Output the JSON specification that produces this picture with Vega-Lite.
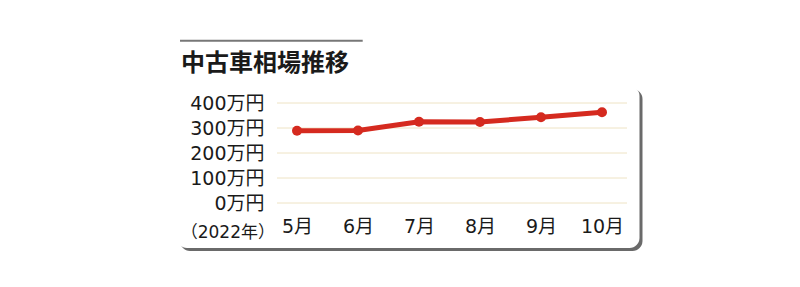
{
  "$schema": "https://vega.github.io/schema/vega-lite/v6.json",
  "autosize": "none",
  "width": 350,
  "height": 100,
  "padding": {"left": 277, "top": 103, "right": 173, "bottom": 84},
  "background": "#ffffff",
  "config": {
    "view": {"stroke": null},
    "font": "Noto Sans CJK JP"
  },
  "datasets": {
    "prices": [
      {"month": 5, "price": 289},
      {"month": 6, "price": 290},
      {"month": 7, "price": 325},
      {"month": 8, "price": 324},
      {"month": 9, "price": 343},
      {"month": 10, "price": 363}
    ],
    "grid": [
      {"level": 0}, {"level": 100}, {"level": 200}, {"level": 300}, {"level": 400}
    ]
  },
  "encoding": {
    "x": {
      "type": "quantitative",
      "scale": {"domain": [4.672, 10.41], "nice": false, "zero": false},
      "axis": {
        "title": null, "grid": false, "domain": false, "ticks": false,
        "values": [5, 6, 7, 8, 9, 10],
        "labelExpr": "datum.value + '月'",
        "labelFont": "DejaVu Sans, Noto Sans CJK JP",
        "labelFontSize": 19, "labelColor": "#1a1a1a",
        "labelPadding": 14, "labelFlush": false, "labelOverlap": false,
        "zindex": 1
      }
    },
    "y": {
      "type": "quantitative",
      "scale": {"domain": [0, 400], "nice": false},
      "axis": {
        "title": null, "grid": false, "domain": false, "ticks": false,
        "values": [0, 100, 200, 300, 400],
        "labelExpr": "datum.value + '万円'",
        "labelFont": "DejaVu Sans, Noto Sans CJK JP",
        "labelFontSize": 19, "labelColor": "#1a1a1a",
        "labelPadding": 13, "labelFlush": false, "labelOverlap": false,
        "zindex": 1
      }
    }
  },
  "layer": [
    {
      "description": "panel shadow",
      "data": {"values": [{}]},
      "mark": {"type": "rect", "fill": "#6a6a6a", "cornerRadius": 10},
      "encoding": {
        "x": {"datum": 3.082, "type": "quantitative"},
        "x2": {"datum": 10.664},
        "y": {"datum": 456, "type": "quantitative"},
        "y2": {"datum": -192}
      }
    },
    {
      "description": "panel face",
      "data": {"values": [{}]},
      "mark": {"type": "rect", "fill": "#ffffff", "cornerRadius": 10, "xOffset": -3, "x2Offset": -3, "yOffset": -3, "y2Offset": -3},
      "encoding": {
        "x": {"datum": 3.082, "type": "quantitative"},
        "x2": {"datum": 10.664},
        "y": {"datum": 456, "type": "quantitative"},
        "y2": {"datum": -192}
      }
    },
    {
      "description": "rule above the heading",
      "data": {"values": [{}]},
      "mark": {"type": "rule", "stroke": "#777777", "strokeWidth": 2},
      "encoding": {
        "x": {"datum": 3.082, "type": "quantitative"},
        "x2": {"datum": 6.077},
        "y": {"datum": 649, "type": "quantitative"}
      }
    },
    {
      "description": "heading",
      "data": {"values": [{"label": "中古車相場推移"}]},
      "mark": {"type": "text", "align": "left", "baseline": "middle", "fontSize": 24, "fontWeight": "bold", "color": "#1a1a1a", "font": "Noto Sans CJK JP"},
      "encoding": {
        "x": {"datum": 3.1, "type": "quantitative"},
        "y": {"datum": 556, "type": "quantitative"},
        "text": {"field": "label"}
      }
    },
    {
      "description": "year note",
      "data": {"values": [{"label": "（2022年）"}]},
      "mark": {"type": "text", "align": "right", "baseline": "middle", "dx": -2, "fontSize": 17, "color": "#1a1a1a", "font": "DejaVu Sans, Noto Sans CJK JP"},
      "encoding": {
        "x": {"datum": 4.672, "type": "quantitative"},
        "y": {"datum": -120, "type": "quantitative"},
        "text": {"field": "label"}
      }
    },
    {
      "data": {"name": "grid"},
      "mark": {"type": "rule", "stroke": "#eee3c4", "strokeWidth": 1},
      "encoding": {
        "x": {"datum": 4.672, "type": "quantitative"},
        "x2": {"datum": 10.41},
        "y": {"field": "level", "type": "quantitative"}
      }
    },
    {
      "data": {"name": "prices"},
      "mark": {"type": "line", "color": "#d52a1f", "strokeWidth": 5, "point": {"filled": true, "size": 100, "color": "#d52a1f"}},
      "encoding": {
        "x": {"field": "month", "type": "quantitative"},
        "y": {"field": "price", "type": "quantitative"}
      }
    }
  ]
}
